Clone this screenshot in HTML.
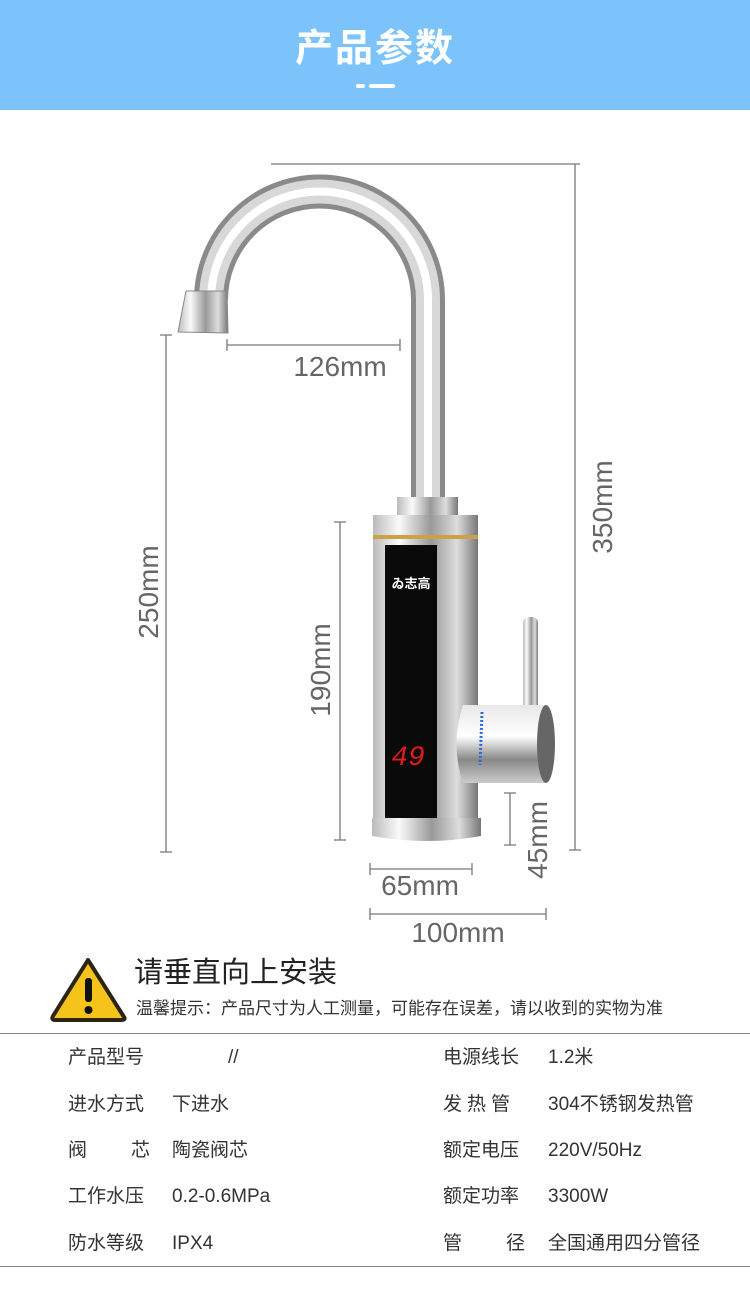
<!DOCTYPE html>
<html><head><meta charset="utf-8"><style>
html,body{margin:0;padding:0;background:#fff;}
body{width:750px;height:1291px;position:relative;overflow:hidden;font-family:"Liberation Sans","Noto Sans CJK SC",sans-serif;}
.hdr{position:absolute;left:0;top:0;width:750px;height:110px;background:#7cc3fb;}
.hdr h1{position:absolute;left:0;width:750px;top:17px;margin:0;text-align:center;color:#fff;font-size:38px;font-weight:bold;letter-spacing:2px;}
.t{position:absolute;font-size:19px;line-height:24px;height:24px;color:#333;white-space:nowrap;}
.line{position:absolute;left:0;width:750px;height:1px;background:#888;}
</style></head><body>
<div class="hdr"><h1>产品参数</h1>
<div style="position:absolute;left:356px;top:84px;width:9px;height:4px;border-radius:2px;background:#fff"></div>
<div style="position:absolute;left:369px;top:84px;width:26px;height:4px;border-radius:2px;background:#fff"></div>
</div>
<svg width="750" height="1291" style="position:absolute;left:0;top:0">
<defs>
<linearGradient id="chrome" x1="0" x2="1" y1="0" y2="0">
<stop offset="0" stop-color="#bbb"/><stop offset="0.25" stop-color="#fafafa"/><stop offset="0.55" stop-color="#999"/><stop offset="0.8" stop-color="#ddd"/><stop offset="1" stop-color="#777"/></linearGradient>
<linearGradient id="chromeV" x1="0" x2="0" y1="0" y2="1">
<stop offset="0" stop-color="#e8e8e8"/><stop offset="0.4" stop-color="#fff"/><stop offset="0.7" stop-color="#888"/><stop offset="1" stop-color="#ccc"/></linearGradient>
</defs>
<g stroke="#777" stroke-width="1.3" fill="none">
<path d="M271 164H580M575 164V850M569 850H581"/>
<path d="M166 335V852M160 335H172M160 852H172"/>
<path d="M227 345H400M227 339V351M400 339V351"/>
<path d="M340 522V840M334 522H346M334 840H346"/>
<path d="M510 793V845M504 793H516M504 845H516"/>
<path d="M370 869H472M370 863V875M472 863V875"/>
<path d="M370 914H546M370 908V920M546 908V920"/>
</g>
<path d="M211 300 A108 108 0 0 1 428 300 L428 500" stroke="#8a8a8a" stroke-width="34" fill="none"/>
<path d="M211 300 A108 108 0 0 1 428 300 L428 500" stroke="#d8d8d8" stroke-width="24" fill="none"/>
<path d="M211 300 A108 108 0 0 1 428 300 L428 500" stroke="#fff" stroke-width="8" fill="none"/>
<path d="M186 291 L227 291 L228 333 L178 332 Z" fill="url(#chrome)" stroke="#888" stroke-width="1"/>
<rect x="397" y="497" width="61" height="19" fill="url(#chrome)"/>
<rect x="373" y="515" width="105" height="310" fill="url(#chrome)"/>
<rect x="373" y="535" width="105" height="4" fill="#c9a24a"/>
<rect x="385" y="545" width="52" height="273" fill="#0a0a0a"/>
<path d="M372 818H481V836Q426 846 372 836Z" fill="url(#chrome)"/>
<text x="411" y="588" fill="#fff" font-size="13" font-weight="bold" text-anchor="middle" font-family="Liberation Sans,Noto Sans CJK SC,sans-serif">ゐ志高</text>
<text x="408" y="765" fill="#e21a1a" font-size="28" text-anchor="middle" font-family="Liberation Mono,monospace" font-style="italic">49</text>
<rect x="523" y="617" width="15" height="95" rx="6" fill="url(#chrome)"/>
<path d="M463 705 H545 V783 H463 Q450 744 463 705Z" fill="url(#chromeV)"/>
<ellipse cx="546" cy="744" rx="9" ry="39" fill="#666"/>
<path d="M482 712 L480 765" stroke="#2a6bd8" stroke-width="3" stroke-dasharray="2 2"/>
<g fill="#666" font-family="Liberation Sans,sans-serif" font-size="28">
<text x="340" y="376" text-anchor="middle">126mm</text>
<text x="420" y="895" text-anchor="middle">65mm</text>
<text x="458" y="942" text-anchor="middle">100mm</text>
<text transform="translate(158 592) rotate(-90)" text-anchor="middle">250mm</text>
<text transform="translate(330 670) rotate(-90)" text-anchor="middle">190mm</text>
<text transform="translate(547 840) rotate(-90)" text-anchor="middle">45mm</text>
<text transform="translate(612 507) rotate(-90)" text-anchor="middle">350mm</text>
</g>
<path d="M88 960 L124 1017 Q126 1020 121 1020 L55 1020 Q51 1020 53 1016 Z" fill="#f6c31a" stroke="#2a2410" stroke-width="4" stroke-linejoin="round"/>
<rect x="85" y="978" width="7" height="24" rx="3" fill="#111"/>
<circle cx="88.5" cy="1010" r="4" fill="#111"/>
</svg>
<div class="t" style="left:134px;top:955px;font-size:29px;line-height:36px;height:36px;color:#222">请垂直向上安装</div>
<div class="t" style="left:136px;top:997px;font-size:17px;color:#333">温馨提示：产品尺寸为人工测量，可能存在误差，请以收到的实物为准</div>
<div class="line" style="top:1033px"></div>
<div class="line" style="top:1266px"></div>
<div class="t" style="left:68px;top:1046px">产品型号</div><div class="t" style="left:228px;top:1046px">//</div>
<div class="t" style="left:68px;top:1093px">进水方式</div><div class="t" style="left:172px;top:1093px">下进水</div>
<div class="t" style="left:68px;top:1139px">阀</div><div class="t" style="left:131px;top:1139px">芯</div><div class="t" style="left:172px;top:1139px">陶瓷阀芯</div>
<div class="t" style="left:68px;top:1185px">工作水压</div><div class="t" style="left:172px;top:1185px">0.2-0.6MPa</div>
<div class="t" style="left:68px;top:1232px">防水等级</div><div class="t" style="left:172px;top:1232px">IPX4</div>
<div class="t" style="left:443px;top:1046px">电源线长</div><div class="t" style="left:548px;top:1046px">1.2米</div>
<div class="t" style="left:443px;top:1093px;letter-spacing:5px">发热管</div><div class="t" style="left:548px;top:1093px">304不锈钢发热管</div>
<div class="t" style="left:443px;top:1139px">额定电压</div><div class="t" style="left:548px;top:1139px">220V/50Hz</div>
<div class="t" style="left:443px;top:1185px">额定功率</div><div class="t" style="left:548px;top:1185px">3300W</div>
<div class="t" style="left:443px;top:1232px">管</div><div class="t" style="left:506px;top:1232px">径</div><div class="t" style="left:548px;top:1232px">全国通用四分管径</div>
</body></html>
